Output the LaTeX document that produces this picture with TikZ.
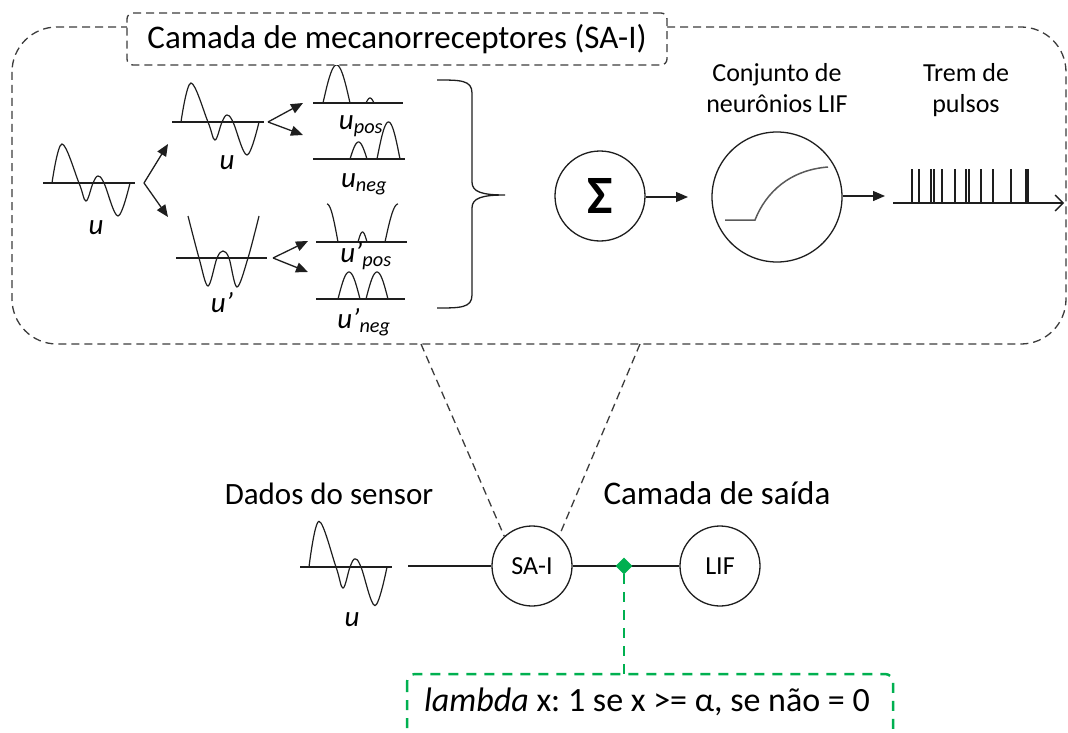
\documentclass[tikz,border=0pt]{standalone}
\usepackage{fontspec}
\setmainfont{Carlito}
\usetikzlibrary{arrows.meta,shapes.geometric}
\definecolor{lc}{HTML}{1E1E1E}
\definecolor{dashc}{HTML}{3C3C3C}
\definecolor{grn}{HTML}{00B050}
\definecolor{curvec}{HTML}{5A5A5A}
\frenchspacing
\newcommand{\humpcurve}[4]{\draw[wave] plot[domain=0:180,samples=30] ({#1+#2*\x/180},{#3-#4*sin(\x)});}
\tikzset{
  ln/.style={draw=lc, line width=1.3pt},
  wave/.style={draw=lc, line width=1.2pt},
  dsh/.style={draw=dashc, line width=1.3pt, dash pattern=on 8pt off 5pt},
  gdsh/.style={draw=grn, line width=2.5pt, dash pattern=on 10pt off 8pt},
  arr/.style={ln, -{Triangle[length=12pt,width=10pt]}},
  circ/.style={circle, draw=lc, line width=1.3pt, inner sep=0pt},
  lbl/.style={font=\fontsize{29}{32}\selectfont\itshape, inner sep=0pt},
  big/.style={font=\fontsize{33}{38}\selectfont, inner sep=0pt},
  mid/.style={font=\fontsize{26}{31}\selectfont, inner sep=0pt, align=center},
  uwave/.pic={
    \draw[wave] (0,0) -- (92,0);
    \draw[wave] plot[smooth,tension=0.6] coordinates {(9,0)(19,-39)(36,0)(43,18)(50,0)(55,-7)(61,0)(75,33)(87,0)};
  },
}
\begin{document}
\begin{tikzpicture}[x=1pt,y=-1pt]
\useasboundingbox (0,0) rectangle (1068,733);
% big dashed frame
\draw[dsh, rounded corners=45] (12,27) rectangle (1066,344);
% waves u
\pic at (43,183) {uwave};
\pic at (172,122) {uwave};
\pic[yscale=1.17] at (300,567) {uwave};
% u'
\draw[wave] (176,258) -- (267,258);
\draw[wave] plot[smooth,tension=0.55] coordinates {(188,216)(199,258)(208,286)(217,258)(223,251)(229,258)(237,287)(248,258)(259,216)};
% u_pos
\draw[wave] (313,103) -- (403,103);
\humpcurve{323}{27}{103}{38}
\humpcurve{366}{8}{103}{5}
% u_neg
\draw[wave] (313,159) -- (405,159);
\humpcurve{350}{17}{159}{17}
\humpcurve{377}{23}{159}{37}
% u'_pos
\draw[wave] (316,242) -- (407,242);
\draw[lc, line width=2pt] (338,242) -- (385,242);
\draw[wave] plot[domain=90:180,samples=20] ({316+22*\x/180},{242-38*sin(\x)});
\draw[wave] plot[domain=0:90,samples=20] ({385+26*\x/180},{242-38*sin(\x)});
\humpcurve{358}{9}{242}{10}
% u'_neg
\draw[wave] (316,299) -- (405,299);
\humpcurve{338}{22}{299}{27}
\humpcurve{366}{22}{299}{27}
% labels
\node[lbl] (lu1) at (96,228) {u};
\node[lbl] (lu2) at (227,163) {u};
\node[lbl] (lu3) at (222,303) {u’};
\node[lbl] (lup) at (361,126) {u\textsubscript{pos}};
\node[lbl] (lun) at (364,184) {u\textsubscript{neg}};
\node[lbl] (lupp) at (366,256) {u’\textsubscript{pos}};
\node[lbl] (lunp) at (364,322) {u’\textsubscript{neg}};
\node[lbl] (lu4) at (352,620) {u};
% forks
\coordinate (f1) at (144,183); \coordinate (f1a) at (168,144); \coordinate (f1b) at (168,217);
\coordinate (f2) at (268,122); \coordinate (f2a) at (303,103); \coordinate (f2b) at (303,135);
\coordinate (f3) at (273,258); \coordinate (f3a) at (308,241); \coordinate (f3b) at (308,272);
\draw[arr] (f1) -- (f1a); \draw[arr] (f1) -- (f1b);
\draw[arr] (f2) -- (f2a); \draw[arr] (f2) -- (f2b);
\draw[arr] (f3) -- (f3a); \draw[arr] (f3) -- (f3b);
% brace
\draw[ln] (437,80) .. controls (460,80) and (472,80) .. (472,93) -- (472,182)
  .. controls (472,192) and (482,195) .. (505,195)
  .. controls (482,195) and (472,198) .. (472,208) -- (472,295)
  .. controls (472,308) and (460,308) .. (437,308);
% sigma
\node[circ, minimum size=90pt] (sig) at (600,196) {};
\node[inner sep=0pt, font=\fontsize{54}{54}\selectfont\bfseries] (sigt) at (sig.center) {Σ};
\coordinate (a1e) at (688,197);
\draw[arr] (sig.east |- a1e) -- (a1e);
% LIF neuron set
\node[circ, minimum size=130pt] (lifn) at (777,197) {};
\draw[draw=curvec, line width=1.5pt] (725,220) -- (755,220) .. controls (766,192) and (790,170) .. (828,167);
\node[mid] (conj) at (777,88) {Conjunto de\\neurônios LIF};
\coordinate (a2e) at (885,196);
\draw[arr] (lifn.east |- a2e) -- (a2e);
% spike train
\node[mid] (trem) at (966,90) {Trem de\\pulsos};
\coordinate (sp0) at (893,203); \coordinate (sp1) at (1064,203);
\draw[ln, -{Straight Barb[length=8pt,width=16pt]}] (sp0) -- (sp1);
\foreach \s in {912,919,931,934,942,955,966,969,981,1011,1026,1028}
  \draw[lc, line width=1.2pt] (\s,203) -- (\s,169);
\draw[lc, line width=2.2pt] (993,203) -- (993,169);
% title
\node[dsh, rounded corners=6, fill=white, minimum width=540pt, minimum height=52pt, big] (title) at (397,39) {Camada de mecanorreceptores (SA-I)};
% bottom
\coordinate (bl) at (421,344); \coordinate (br) at (640,344);
\node[big, font=\fontsize{31}{36}\selectfont] (dados) at (329,494) {Dados do sensor};
\node[big] (saida) at (717,493) {Camada de saída};
\node[circ, minimum size=80pt, mid] (sai) at (532,566) {SA-I};
\node[circ, minimum size=80pt, mid] (lifb) at (720,566) {LIF};
\coordinate (in0) at (408,566);
\draw[ln] (in0) -- (sai.west);
\draw[ln] (sai.east) -- (lifb.west);
\draw[dsh] (bl) -- (sai.133);
\draw[dsh] (br) -- (sai.48);
\coordinate (gtop) at (624,674);
\draw[gdsh] (624,574) -- (gtop);
\node[diamond, fill=grn, inner sep=0pt, minimum size=17pt] (dm) at (624,566) {};
\draw[gdsh, rounded corners=8] (407,674) rectangle (893,745);
\node[big, font=\fontsize{34}{38}\selectfont] (lam) at (647,702) {\textit{lambda} x: 1 se x >= α, se não = 0};
\end{tikzpicture}
\end{document}
